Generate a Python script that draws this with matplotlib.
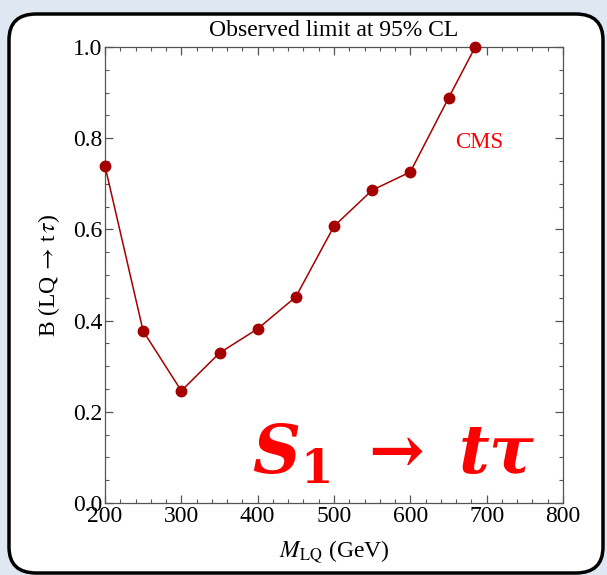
import numpy as np
import matplotlib
matplotlib.use("Agg")
import matplotlib.pyplot as plt
from matplotlib.patches import FancyBboxPatch
from matplotlib.ticker import MultipleLocator

# observed limit
mass = [200, 250, 300, 350, 400, 450, 500, 550, 600, 650, 685]
br_limit = [0.739, 0.377, 0.246, 0.329, 0.382, 0.452, 0.607, 0.686, 0.726, 0.888, 1.0]

x_ticks = [200, 300, 400, 500, 600, 700, 800]
y_ticks = [0.0, 0.2, 0.4, 0.6, 0.8, 1.0]

plt.rcParams['font.family'] = ['Liberation Serif', 'DejaVu Serif']
plt.rcParams['mathtext.fontset'] = 'stix'


def main():
    fig = plt.figure(figsize=(6.07, 5.75), dpi=100)
    fig.patch.set_facecolor('#dfe7f2')

    # rounded white panel
    box = FancyBboxPatch((9 / 607, 1 - 573 / 575), 594 / 607, 559 / 575,
                         boxstyle="round,pad=0,rounding_size=0.045",
                         transform=fig.transFigure, facecolor='white',
                         edgecolor='black', linewidth=2.5, zorder=-5)
    fig.patches.append(box)

    ax = fig.add_axes([105 / 607, 1 - 503 / 575, 458 / 607, 456 / 575])
    ax.set_zorder(2)
    ax.plot(mass, br_limit, color='#a50000', lw=1.1, marker='o', ms=7.5,
            clip_on=False, zorder=3)

    ax.set_xlim(200, 800)
    ax.set_ylim(0, 1)
    ax.set_xticks(x_ticks)
    ax.set_yticks(y_ticks)
    ax.set_yticklabels(['%.1f' % v for v in y_ticks])
    ax.xaxis.set_minor_locator(MultipleLocator(20))
    ax.yaxis.set_minor_locator(MultipleLocator(0.05))
    ax.tick_params(which='both', direction='in', top=True, right=True,
                   color='#555555', labelsize=17, pad=2)
    ax.tick_params(which='major', length=6, width=0.9)
    ax.tick_params(which='minor', length=3, width=0.8)
    for s in ax.spines.values():
        s.set_color('#555555')
        s.set_linewidth(0.9)

    ax.set_title('Observed limit at 95% CL', fontsize=17, pad=8)
    ax.set_xlabel(r'$M_{\rm LQ}$ (GeV)', fontsize=17, labelpad=9)
    ax.set_ylabel(r'B (LQ$\,\rightarrow\,$t$\,\tau$)', fontsize=17, labelpad=8)

    ax.text(690, 0.79, 'CMS', color='red', fontsize=16.5, ha='center', va='center')
    ax.text(0.63, 0.105,
            r'$\boldsymbol{S}_{\mathbf{1}}\ \boldsymbol{\rightarrow}\ \boldsymbol{t\tau}$',
            color='red', fontsize=48, ha='center', va='center',
            math_fontfamily='dejavuserif', transform=ax.transAxes)

    fig.savefig('out.png', dpi=100, facecolor=fig.get_facecolor())


if __name__ == "__main__":
    main()
